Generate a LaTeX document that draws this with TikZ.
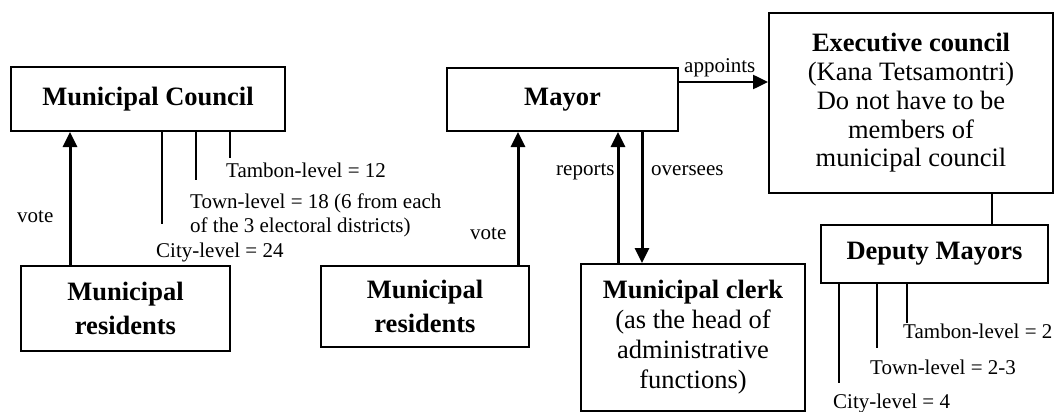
\documentclass[tikz,border=0pt]{standalone}
\usepackage{fontspec}
\setmainfont{Liberation Serif}
\usetikzlibrary{arrows.meta}
\begin{document}
\begin{tikzpicture}[x=1pt,y=-1pt,
  box/.style={draw,line width=2pt,inner sep=0pt,align=center,
    font=\fontsize{26.5}{30}\selectfont},
  lbl/.style={inner sep=0pt,anchor=west,align=left,text height=0.7em,text depth=0.2em,
    yshift=-4pt,font=\fontsize{21}{24}\selectfont},
  arr/.style={line width=3pt,-{Triangle[width=14pt,length=15pt]}},
  thinarr/.style={line width=2.5pt,-{Triangle[width=14pt,length=15pt]}},
  tick/.style={line width=1.6pt}]
\useasboundingbox (0,0) rectangle (1058,412);

% boxes
\node[box,minimum width=274pt,minimum height=64pt] (council) at (148,99) {\textbf{Municipal Council}};
\node[box,minimum width=209pt,minimum height=85pt] (res1) at (125.5,308.5) {\textbf{Municipal}\\[4pt]\textbf{residents}};
\node[box,minimum width=231pt,minimum height=63pt] (mayor) at (562.5,99.5) {\textbf{Mayor}};
\node[box,minimum width=208pt,minimum height=81pt] (res2) at (425,306.5) {\textbf{Municipal}\\[4pt]\textbf{residents}};
\node[box,minimum width=224pt,minimum height=147pt] (clerk) at (693,337.5) {\textbf{Municipal clerk}\\(as the head of\\administrative\\functions)};
\node[box,minimum width=284pt,minimum height=180pt,font=\fontsize{26.5}{28.7}\selectfont] (exec) at (911,103) {\textbf{Executive council}\\(Kana Tetsamontri)\\Do not have to be\\members of\\municipal council};
\node[box,minimum width=227pt,minimum height=58pt] (deputy) at (934.5,254) {\textbf{Deputy Mayors}};

% x positions of the vertical connectors
\coordinate (xv1) at (70,0);
\coordinate (xv2) at (518,0);
\coordinate (xrep) at (618,0);
\coordinate (xov) at (642,0);
\coordinate (xex) at (992,0);
\coordinate (yap) at (0,82);

% connectors
\draw[arr] (res1.north -| xv1) -- (council.south -| xv1);
\draw[arr] (res2.north -| xv2) -- (mayor.south -| xv2);
\draw[arr] (clerk.north -| xrep) -- (mayor.south -| xrep);
\draw[arr] (mayor.south -| xov) -- (clerk.north -| xov);
\draw[thinarr] (mayor.east |- yap) -- (exec.west |- yap);
\draw[tick] (exec.south -| xex) -- (deputy.north -| xex);

% council seat numbers
\coordinate (ct1) at (162,224);
\coordinate (ct2) at (196,180);
\coordinate (ct3) at (230,158);
\draw[tick] (council.south -| ct1) -- (ct1);
\draw[tick] (council.south -| ct2) -- (ct2);
\draw[tick] (council.south -| ct3) -- (ct3);

% deputy mayor numbers
\coordinate (dt1) at (839,383);
\coordinate (dt2) at (877,348);
\coordinate (dt3) at (907,323);
\draw[tick] (deputy.south -| dt1) -- (dt1);
\draw[tick] (deputy.south -| dt2) -- (dt2);
\draw[tick] (deputy.south -| dt3) -- (dt3);

% labels
\node[lbl] (vote1) at (17,216) {vote};
\node[lbl] (ctam) at (226,171) {Tambon-level = 12};
\node[lbl,text height=,text depth=] (ctown) at (190,211) {Town-level = 18 (6 from each\\of the 3 electoral districts)};
\node[lbl] (ccity) at (156,251) {City-level = 24};
\node[lbl] (vote2) at (470,233) {vote};
\node[lbl] (rep) at (556,169) {reports};
\node[lbl] (ovs) at (651,169) {oversees};
\node[lbl] (app) at (684,66) {appoints};
\node[lbl] (dtam) at (903,332) {Tambon-level = 2};
\node[lbl] (dtown) at (870,368) {Town-level = 2-3};
\node[lbl] (dcity) at (833,402) {City-level = 4};
\end{tikzpicture}
\end{document}
